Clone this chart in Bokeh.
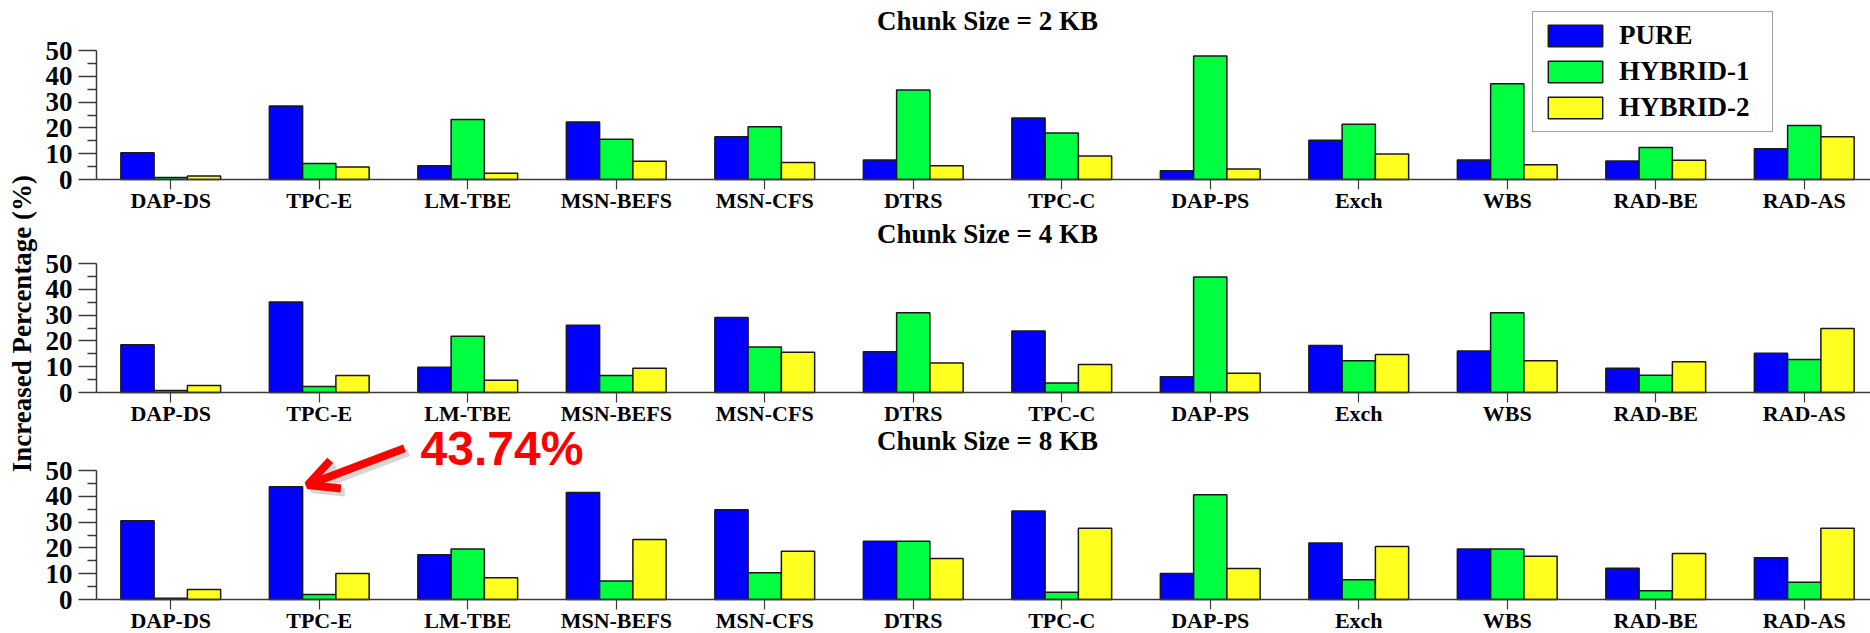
import math
from bokeh.plotting import figure
from bokeh.models import (ColumnDataSource, Range1d, FixedTicker, Legend, LegendItem,
                          Label, Arrow, OpenHead, LinearAxis)
from bokeh.transform import dodge
from bokeh.embed import file_html
from bokeh.resources import INLINE

categories = ["DAP-DS", "TPC-E", "LM-TBE", "MSN-BEFS", "MSN-CFS", "DTRS",
              "TPC-C", "DAP-PS", "Exch", "WBS", "RAD-BE", "RAD-AS"]
series = ["PURE", "HYBRID-1", "HYBRID-2"]
chunk_sizes = ["2 KB", "4 KB", "8 KB"]

pure_2kb = [10.4, 28.5, 5.3, 22.3, 16.6, 7.6, 23.8, 3.4, 15.2, 7.6, 7.2, 11.9]
hybrid1_2kb = [0.8, 6.2, 23.3, 15.6, 20.4, 34.7, 18.0, 47.9, 21.4, 37.1, 12.4, 20.9]
hybrid2_2kb = [1.4, 4.8, 2.4, 7.1, 6.6, 5.3, 9.1, 4.1, 9.9, 5.7, 7.5, 16.6]

pure_4kb = [18.5, 35.1, 9.8, 26.1, 29.1, 15.8, 23.8, 6.1, 18.2, 16.1, 9.4, 15.2]
hybrid1_4kb = [0.8, 2.3, 21.8, 6.6, 17.6, 30.9, 3.7, 44.8, 12.3, 30.9, 6.7, 12.8]
hybrid2_4kb = [2.7, 6.6, 4.7, 9.4, 15.6, 11.4, 10.9, 7.5, 14.7, 12.3, 11.9, 24.8]

pure_8kb = [30.5, 43.74, 17.3, 41.5, 34.8, 22.6, 34.3, 10.1, 21.9, 19.6, 12.1, 16.2]
hybrid1_8kb = [0.5, 1.9, 19.6, 7.2, 10.4, 22.6, 2.8, 40.6, 7.7, 19.6, 3.4, 6.7]
hybrid2_8kb = [3.9, 10.1, 8.4, 23.3, 18.7, 15.9, 27.6, 12.0, 20.5, 16.8, 17.8, 27.6]

y_ticks = [0, 10, 20, 30, 40, 50]
y_label = "Increased Percentage (%)"
highlight_panel = "8 KB"
highlight_category = "TPC-E"
highlight_value = 43.74

panel_values = {
    "2 KB": (pure_2kb, hybrid1_2kb, hybrid2_2kb),
    "4 KB": (pure_4kb, hybrid1_4kb, hybrid2_4kb),
    "8 KB": (pure_8kb, hybrid1_8kb, hybrid2_8kb),
}

# ---------------- layout / style constants ----------------
FIG_W, FIG_H = 1870, 633
PX_PER_CAT = 148.5
AXIS_PX = 96                      # y-axis position from figure left
ZERO_PX = [179, 392, 599]         # zero line of each panel, px from figure top
PANEL_PX = 129                    # height of the 0..50 band
PX_PER_UNIT = PANEL_PX / (y_ticks[-1] - y_ticks[0])
TITLE_GAP_PX = 29.5               # title centre above the top tick
COLORS = ["#0000FF", "#00FF40", "#FFFF20"]
SERIF = "Liberation Serif"
BAR_W = 0.224
OFFSETS = [-BAR_W, 0.0, BAR_W]
AXIS_COLOR = "#3a3a3a"
BAR_LINE = "#1a1a1a"

x_start = -0.5 - AXIS_PX / PX_PER_CAT
x_end = x_start + FIG_W / PX_PER_CAT
range_names = ["default", "p2", "p3"]


def panel_range(k):
    return Range1d((ZERO_PX[k] - FIG_H) / PX_PER_UNIT, ZERO_PX[k] / PX_PER_UNIT)


p = figure(width=FIG_W, height=FIG_H, x_range=Range1d(x_start, x_end),
           y_range=panel_range(0),
           extra_y_ranges={"p2": panel_range(1), "p3": panel_range(2)},
           x_axis_type=None, y_axis_type=None, min_border=0,
           output_backend="svg", toolbar_location=None)
p.outline_line_color = None
p.xgrid.visible = False
p.ygrid.visible = False
p.background_fill_color = "white"
p.border_fill_color = "white"

minor_y = [(a + b) / 2 for a, b in zip(y_ticks[:-1], y_ticks[1:])]
legend_renderers = []

for k, size in enumerate(chunk_sizes):
    rn = range_names[k]
    pure, h1, h2 = panel_values[size]
    src = ColumnDataSource(dict(idx=list(range(len(categories))), cat=categories,
                                pure=pure, h1=h1, h2=h2))
    rs = []
    for key, off, color in zip(["pure", "h1", "h2"], OFFSETS, COLORS):
        r = p.vbar(x=dodge("idx", off, range=p.x_range), top=key, bottom=0,
                   width=BAR_W, source=src, fill_color=color, line_color=BAR_LINE,
                   line_width=1.5, y_range_name=rn)
        rs.append(r)
    if k == 0:
        legend_renderers = rs

    xa = LinearAxis(y_range_name=rn, fixed_location=y_ticks[0],
                    bounds=(-0.5, len(categories) - 0.5),
                    ticker=FixedTicker(ticks=list(range(len(categories))), minor_ticks=[]),
                    major_label_overrides={i: c for i, c in enumerate(categories)})
    xa.major_label_text_font = SERIF
    xa.major_label_text_font_style = "bold"
    xa.major_label_text_font_size = "22px"
    xa.major_label_text_color = "black"
    xa.major_tick_out = 10
    xa.major_tick_in = 0
    xa.major_label_standoff = -2
    xa.axis_line_color = AXIS_COLOR
    xa.axis_line_width = 1.5
    xa.major_tick_line_color = AXIS_COLOR
    xa.major_tick_line_width = 1.2
    p.add_layout(xa, "below")

    ya = LinearAxis(y_range_name=rn, fixed_location=-0.5,
                    bounds=(y_ticks[0], y_ticks[-1]),
                    ticker=FixedTicker(ticks=y_ticks, minor_ticks=minor_y))
    ya.major_label_text_font = SERIF
    ya.major_label_text_font_style = "bold"
    ya.major_label_text_font_size = "27px"
    ya.major_label_text_color = "black"
    ya.major_tick_out = 18
    ya.major_tick_in = 0
    ya.minor_tick_out = 9
    ya.minor_tick_in = 0
    ya.major_label_standoff = 6
    ya.axis_line_color = AXIS_COLOR
    ya.axis_line_width = 1.5
    ya.major_tick_line_color = AXIS_COLOR
    ya.major_tick_line_width = 1.5
    ya.minor_tick_line_color = AXIS_COLOR
    ya.minor_tick_line_width = 1.5
    p.add_layout(ya, "left")

    # panel title
    p.add_layout(Label(x=(len(categories) - 1) / 2, y=y_ticks[-1] + TITLE_GAP_PX / PX_PER_UNIT,
                       y_range_name=rn, text="Chunk Size = " + size,
                       text_font=SERIF, text_font_style="bold", text_font_size="27px",
                       text_color="black", text_align="center", text_baseline="middle"))

    if size == highlight_panel:
        ci = categories.index(highlight_category)
        tip_x = ci + OFFSETS[0] + BAR_W / 2 + 0.033
        tip_y = highlight_value + 0.6
        tail_x = tip_x + 0.653
        tail_y = tip_y + 14.3
        sdx, sdy = 4 / PX_PER_CAT, -4 / PX_PER_UNIT
        p.add_layout(Arrow(x_start=tail_x + sdx, y_start=tail_y + sdy,
                           x_end=tip_x + sdx, y_end=tip_y + sdy, y_range_name=rn,
                           line_color="#777777", line_alpha=0.3, line_width=8,
                           end=OpenHead(size=30, line_width=8, line_color="#777777",
                                        line_alpha=0.3)))
        p.add_layout(Arrow(x_start=tail_x, y_start=tail_y, x_end=tip_x, y_end=tip_y,
                           y_range_name=rn, line_color="#FF0000", line_width=8,
                           end=OpenHead(size=30, line_width=8, line_color="#FF0000")))
        p.add_layout(Label(x=ci + 0.682, y=highlight_value + 14.8, y_range_name=rn,
                           text=f"{highlight_value:.2f}%", text_color="#FF0000",
                           text_font="Liberation Sans", text_font_style="bold",
                           text_font_size="48px", text_align="left",
                           text_baseline="middle"))

# shared y-axis title (centred on the middle panel)
p.add_layout(Label(x=-0.5 - (AXIS_PX - 21) / PX_PER_CAT, y=26.7, y_range_name="p2",
                   text=y_label, angle=math.pi / 2, text_font=SERIF,
                   text_font_style="bold", text_font_size="27px", text_color="black",
                   text_align="center", text_baseline="middle"))

legend = Legend(items=[LegendItem(label=s, renderers=[r])
                       for s, r in zip(series, legend_renderers)],
                location=(1532, 501), orientation="vertical",
                glyph_width=68, glyph_height=27, label_width=145, label_height=27,
                label_standoff=10, spacing=5, padding=8, margin=0,
                label_text_font=SERIF, label_text_font_style="bold",
                label_text_font_size="27px", label_text_color="black",
                border_line_color="#444444", border_line_width=1.5,
                background_fill_color="white", background_fill_alpha=1.0)
p.add_layout(legend)

open("out.html", "w").write(file_html(p, INLINE))
